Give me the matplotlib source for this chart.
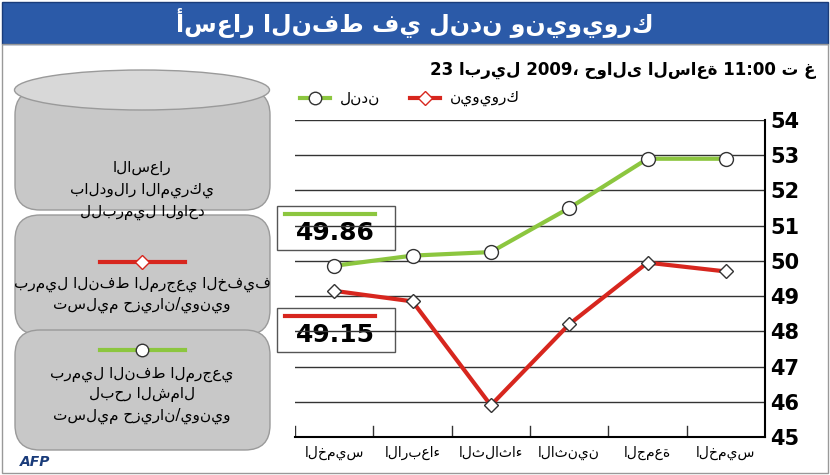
import matplotlib
matplotlib.use("Agg")
import matplotlib.pyplot as plt
from matplotlib.patches import FancyBboxPatch, Rectangle, Ellipse

days = ["الخميس", "الاربعاء", "الثلاثاء", "الاثنين", "الجمعة", "الخميس"]
london = [49.86, 50.15, 50.25, 51.5, 52.9, 52.9]
newyork = [49.15, 48.85, 45.9, 48.2, 49.95, 49.7]
yticks = list(range(45, 55))

GREEN = "#8cc63f"
RED = "#d7261e"

fig = plt.figure(figsize=(8.3, 4.75), dpi=100)
fig.patch.set_facecolor("white")

# title banner
bg = fig.add_axes([0, 0, 1, 1])
bg.set_xlim(0, 830)
bg.set_ylim(475, 0)
bg.axis("off")
bg.add_patch(Rectangle((2, 2), 826, 42, facecolor="#2b5aa8", edgecolor="#1a3c7a"))
bg.text(415, 23, "أسعار النفط في لندن ونيويورك", color="white", fontsize=17,
        fontweight="bold", ha="center", va="center")
bg.add_patch(Rectangle((2, 44), 826, 429, facecolor="none", edgecolor="#999999"))
bg.text(815, 70, "23 ابريل 2009، حوالى الساعة 11:00 ت غ", fontsize=12,
        fontweight="bold", ha="right", va="center")

# barrel on the left
for y0 in (90, 215, 330):
    bg.add_patch(FancyBboxPatch((15, y0), 255, 120, boxstyle="round,pad=0,rounding_size=25",
                                facecolor="#c8c8c8", edgecolor="#9a9a9a"))
bg.add_patch(Ellipse((142, 90), 255, 40, facecolor="#d8d8d8", edgecolor="#9a9a9a"))
bg.text(142, 190, "الاسعار\nبالدولار الاميركي\nللبرميل الواحد", fontsize=11,
        ha="center", va="center", linespacing=1.5)
bg.plot([100, 185], [262, 262], color=RED, lw=3)
bg.plot([142], [262], marker="D", ms=7, mfc="white", mec=RED)
bg.text(142, 295, "برميل النفط المرجعي الخفيف\nتسليم حزيران/يونيو", fontsize=11,
        ha="center", va="center", linespacing=1.4)
bg.plot([100, 185], [350, 350], color=GREEN, lw=3)
bg.plot([142], [350], marker="o", ms=9, mfc="white", mec="#333333")
bg.text(142, 395, "برميل النفط المرجعي\nلبحر الشمال\nتسليم حزيران/يونيو", fontsize=11,
        ha="center", va="center", linespacing=1.4)
bg.text(20, 462, "AFP", fontsize=10, fontweight="bold", color="#1a3c7a", style="italic",
        va="center")

# value boxes
for y, val, c in ((228, london[0], GREEN), (330, newyork[0], RED)):
    bg.add_patch(Rectangle((277, y - 22), 118, 44, facecolor="white", edgecolor="#555555"))
    bg.plot([285, 375], [y - 14, y - 14], color=c, lw=3)
    bg.text(335, y + 5, f"{val:.2f}", fontsize=18, fontweight="bold", ha="center", va="center")

# legend
bg.plot([300, 330], [98, 98], color=GREEN, lw=3)
bg.plot([315], [98], marker="o", ms=9, mfc="white", mec="#333333")
bg.text(340, 98, "لندن", fontsize=11, va="center")
bg.plot([410, 440], [98, 98], color=RED, lw=3)
bg.plot([425], [98], marker="D", ms=7, mfc="white", mec=RED)
bg.text(450, 98, "نيويورك", fontsize=11, va="center")

ax = fig.add_axes([295 / 830, 1 - 437 / 475, 470 / 830, 317 / 475])
ax.set_facecolor("none")
x = list(range(len(days)))
ax.plot(x, london, color=GREEN, lw=3, marker="o", ms=10, mfc="white", mec="#333333", zorder=3)
ax.plot(x, newyork, color=RED, lw=3, marker="D", ms=7, mfc="white", mec="#333333", zorder=3)
ax.set_xlim(-0.5, len(days) - 0.5)
ax.set_ylim(45, 54)
ax.set_yticks(yticks)
ax.yaxis.tick_right()
ax.tick_params(axis="y", labelsize=15, length=0, pad=4)
for lab in ax.get_yticklabels():
    lab.set_fontweight("bold")
ax.set_xticks(x)
ax.set_xticklabels(days, fontsize=10)
ax.tick_params(axis="x", length=0, pad=6)
ax.grid(axis="y", color="#333333", lw=1)
for xv in [i + 0.5 for i in range(len(days) - 1)] + [-0.5]:
    ax.plot([xv, xv], [45, 45.3], color="#333333", lw=1)
for s in ("top", "left"):
    ax.spines[s].set_visible(False)
ax.spines["right"].set_linewidth(1.5)
ax.spines["bottom"].set_linewidth(1.5)

fig.savefig("out.png", dpi=100)
